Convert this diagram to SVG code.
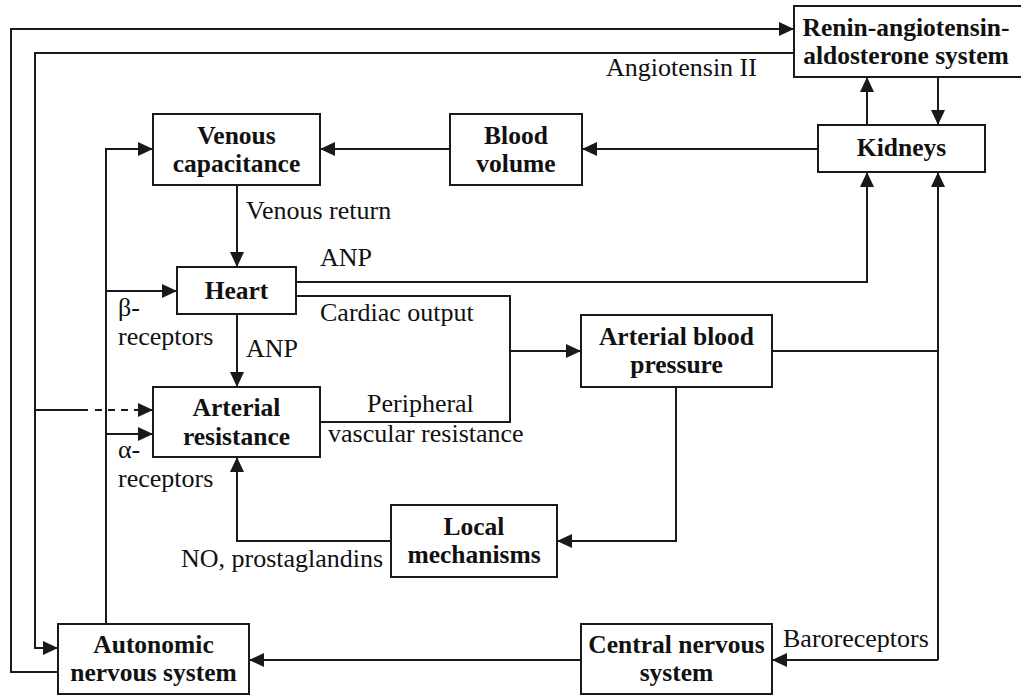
<svg xmlns="http://www.w3.org/2000/svg" width="1021" height="695" viewBox="0 0 1021 695" font-family="Liberation Serif, Times New Roman, Times, DejaVu Serif, serif">
<defs>
<marker id="ah" markerUnits="userSpaceOnUse" markerWidth="15" markerHeight="14" refX="15" refY="7" orient="auto">
<path d="M0,0 L15,7 L0,14 z" fill="#1a1a1a"/>
</marker>
<style>
.box{fill:#fff;stroke:#1a1a1a;stroke-width:2}
.b{font-weight:bold;font-size:25.5px;text-anchor:middle;fill:#111}
.t{font-size:26px;fill:#111}
.c{fill:none;stroke:#1a1a1a;stroke-width:2}
.a{marker-end:url(#ah)}
</style>
</defs>
<rect width="1021" height="695" fill="#fff"/>
<g id="connectors">
<path class="c a" d="M58,672 H11 V29 H794"/>
<path class="c a" d="M794,53 H35 V648 H58"/>
<path class="c a" d="M818,149 H582"/>
<path class="c a" d="M450,149 H320"/>
<path class="c a" d="M867,125 V77"/>
<path class="c a" d="M938,77 V125"/>
<path class="c a" d="M237,185 V267"/>
<path class="c a" d="M296,282 H867 V172"/>
<path class="c" d="M296,296 H510 V422 H320"/>
<path class="c a" d="M510,351 H581"/>
<path class="c a" d="M237,314 V387"/>
<path class="c" d="M772,351 H938"/>
<path class="c a" d="M938,660 V172"/>
<path class="c a" d="M938,660 H772"/>
<path class="c a" d="M676,387 V541 H557"/>
<path class="c a" d="M391,541 H237 V457"/>
<path class="c a" d="M581,660 H249"/>
<path class="c a" d="M106,624 V149 H153"/>
<path class="c a" d="M106,291 H177"/>
<path class="c a" d="M106,434 H153"/>
<path class="c" d="M35,410 H88"/>
<path class="c a" d="M95,410 H153" stroke-dasharray="7 6"/>
</g>
<g id="raas"><rect class="box" x="794" y="6" width="230" height="71"/><text class="b" x="906" y="36">Renin-angiotensin-</text><text class="b" x="906" y="64">aldosterone system</text></g>
<g id="venous"><rect class="box" x="153" y="114" width="167" height="71"/><text class="b" x="236.5" y="144">Venous</text><text class="b" x="236.5" y="172">capacitance</text></g>
<g id="blood-volume"><rect class="box" x="450" y="114" width="132" height="71"/><text class="b" x="516" y="144">Blood</text><text class="b" x="516" y="172">volume</text></g>
<g id="kidneys"><rect class="box" x="818" y="125" width="167" height="47"/><text class="b" x="901.5" y="156">Kidneys</text></g>
<g id="heart"><rect class="box" x="177" y="267" width="119" height="47"/><text class="b" x="236.5" y="299">Heart</text></g>
<g id="arterial-resistance"><rect class="box" x="153" y="387" width="167" height="70"/><text class="b" x="236.5" y="416">Arterial</text><text class="b" x="236.5" y="445">resistance</text></g>
<g id="abp"><rect class="box" x="581" y="315" width="191" height="72"/><text class="b" x="676.5" y="345">Arterial blood</text><text class="b" x="676.5" y="373">pressure</text></g>
<g id="local"><rect class="box" x="391" y="505" width="166" height="72"/><text class="b" x="474" y="535">Local</text><text class="b" x="474" y="563">mechanisms</text></g>
<g id="autonomic"><rect class="box" x="58" y="624" width="191" height="70"/><text class="b" x="153.5" y="653">Autonomic</text><text class="b" x="153.5" y="681">nervous system</text></g>
<g id="cns"><rect class="box" x="581" y="624" width="191" height="70"/><text class="b" x="676.5" y="653">Central nervous</text><text class="b" x="676.5" y="681">system</text></g>
<g id="labels">
<text class="t" x="606" y="76">Angiotensin II</text>
<text class="t" x="246" y="219">Venous return</text>
<text class="t" x="320" y="266">ANP</text>
<text class="t" x="320" y="321">Cardiac output</text>
<text class="t" x="118" y="316">β-</text>
<text class="t" x="118" y="345">receptors</text>
<text class="t" x="246" y="357">ANP</text>
<text class="t" x="367" y="412">Peripheral</text>
<text class="t" x="328" y="442">vascular resistance</text>
<text class="t" x="118" y="458">α-</text>
<text class="t" x="118" y="487">receptors</text>
<text class="t" x="181" y="567">NO, prostaglandins</text>
<text class="t" x="783" y="647">Baroreceptors</text>
</g>
</svg>
